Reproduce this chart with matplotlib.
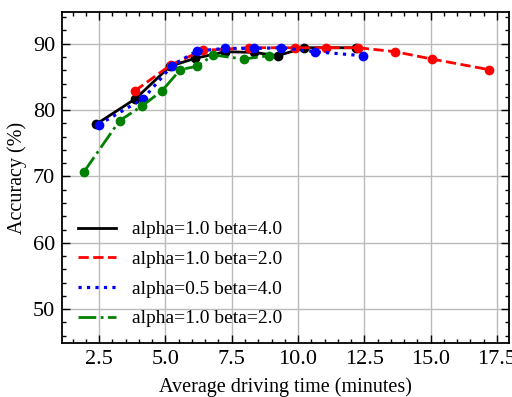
import matplotlib
matplotlib.use("Agg")
import matplotlib.pyplot as plt
from matplotlib.ticker import MultipleLocator

plt.rcParams["font.family"] = ["Liberation Serif", "DejaVu Serif"]
plt.rcParams["mathtext.fontset"] = "stix"

# Data
x_a1_b4 = [2.40, 3.87, 5.17, 6.12, 7.25, 8.33, 9.23, 10.23, 12.19]
y_a1_b4 = [77.9, 81.7, 86.6, 87.8, 88.8, 88.7, 88.2, 89.4, 89.4]

x_a1_b2 = [3.85, 5.20, 6.40, 8.17, 9.89, 11.07, 12.27, 13.67, 15.04, 17.20]
y_a1_b2 = [82.9, 86.8, 89.0, 89.4, 89.4, 89.4, 89.4, 88.8, 87.7, 86.1]

x_a05_b4 = [2.48, 4.16, 5.25, 6.18, 7.26, 8.35, 9.37, 10.65, 12.44]
y_a05_b4 = [77.8, 81.7, 86.7, 88.9, 89.3, 89.3, 89.4, 88.8, 88.2]

x_g = [1.93, 3.27, 4.11, 4.87, 5.56, 6.19, 6.81, 7.95, 8.89]
y_g = [70.7, 78.4, 80.6, 82.9, 86.1, 86.6, 88.3, 87.7, 88.2]

labels = ["alpha=1.0 beta=4.0", "alpha=1.0 beta=2.0",
          "alpha=0.5 beta=4.0", "alpha=1.0 beta=2.0"]

fig = plt.figure(figsize=(5.12, 3.97), dpi=100)
ax = fig.add_axes([0.121, 0.136, 0.873, 0.834])

lw = 2.0
ms = 6
l1, = ax.plot(x_a1_b4, y_a1_b4, "k-", lw=lw)
ax.plot(x_a1_b4, y_a1_b4, "ko", ms=ms)
l2, = ax.plot(x_a1_b2, y_a1_b2, "r--", lw=lw)
ax.plot(x_a1_b2, y_a1_b2, "ro", ms=ms)
l3, = ax.plot(x_a05_b4, y_a05_b4, "b:", lw=lw + 0.3)
ax.plot(x_a05_b4, y_a05_b4, "bo", ms=ms)
l4, = ax.plot(x_g, y_g, "g-.", lw=lw)
ax.plot(x_g, y_g, "go", ms=ms)

ax.set_xlim(1.1, 17.95)
ax.set_ylim(44.9, 94.8)
ax.xaxis.set_major_locator(MultipleLocator(2.5))
ax.xaxis.set_minor_locator(MultipleLocator(0.5))
ax.yaxis.set_major_locator(MultipleLocator(10))
ax.yaxis.set_minor_locator(MultipleLocator(2))
ax.tick_params(which="both", direction="in", top=True, right=True,
               labelsize=16, width=1.0)
ax.tick_params(which="major", length=6, pad=5)
ax.tick_params(which="minor", length=3)
for s in ax.spines.values():
    s.set_linewidth(1.3)
ax.grid(True, which="major", color="#bbbbbb", lw=1.0)
ax.set_axisbelow(True)

ax.set_xlabel("Average driving time (minutes)", fontsize=14.5, labelpad=6)
ax.set_ylabel("Accuracy (%)", fontsize=14.5)

ax.legend([l1, l2, l3, l4], labels, loc="lower left", frameon=False,
          fontsize=14, handlelength=2.0, labelspacing=0.62,
          borderaxespad=0.4)

fig.savefig("out.png", dpi=100)
